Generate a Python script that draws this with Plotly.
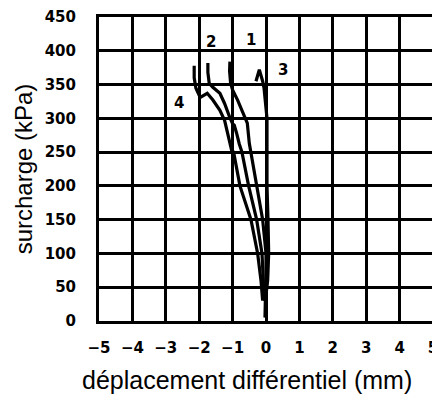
import plotly.graph_objects as go

# Curve data: (displacement mm, load kPa)
curve1_x = [0.0, 0.0, 0.0, -0.1, -0.28, -0.45, -0.5, -0.56, -0.71, -0.85, -1.0, -1.06, -1.09, -1.08]
curve1_y = [30, 60, 100, 150, 200, 250, 263, 293, 312, 327, 342, 352, 370, 384]

curve2_x = [-0.05, -0.08, -0.12, -0.28, -0.52, -0.72, -0.8, -0.88, -0.95, -1.0, -1.09, -1.24, -1.38, -1.59, -1.7, -1.74, -1.74]
curve2_y = [30, 60, 100, 150, 200, 250, 262, 278, 290, 292, 302, 322, 337, 346, 352, 368, 382]

curve3_x = [-0.03, -0.02, 0.05, 0.08, 0.06, 0.03, 0.03, 0.03, -0.06, -0.1, -0.2, -0.3]
curve3_y = [5, 30, 60, 100, 150, 200, 250, 300, 345, 355, 372, 355]

curve4_x = [-0.1, -0.15, -0.25, -0.45, -0.78, -0.97, -1.03, -1.15, -1.24, -1.38, -1.59, -1.76, -1.97, -2.1, -2.15, -2.15]
curve4_y = [30, 60, 100, 150, 200, 250, 253, 278, 297, 312, 327, 337, 331, 345, 360, 378]

curve_labels = ["1", "2", "3", "4"]
label_x = [-0.45, -1.65, 0.5, -2.6]
label_y = [416, 413, 371, 322]

x_ticks = [-5, -4, -3, -2, -1, 0, 1, 2, 3, 4, 5]
y_ticks = [0, 50, 100, 150, 200, 250, 300, 350, 400, 450]
x_title = "déplacement différentiel (mm)"
y_title = "surcharge (kPa)"

fig = go.Figure()
for cx, cy in [(curve1_x, curve1_y), (curve2_x, curve2_y), (curve3_x, curve3_y), (curve4_x, curve4_y)]:
    fig.add_trace(go.Scatter(x=cx, y=cy, mode="lines",
                             line=dict(color="black", width=3.2), showlegend=False))

for t, lx, ly in zip(curve_labels, label_x, label_y):
    fig.add_annotation(x=lx, y=ly, text=t, showarrow=False,
                       font=dict(family="DejaVu Sans", size=15, color="black", weight="bold"))

# x axis title (sits slightly left of the plot centre in the reference)
fig.add_annotation(xref="paper", yref="paper", x=0.443, y=0, yshift=-59,
                   xanchor="center", yanchor="middle", text=x_title, showarrow=False,
                   font=dict(family="Liberation Sans", size=25, color="black"))

axis_common = dict(showgrid=True, gridcolor="black", gridwidth=2.5,
                   showline=True, linecolor="black", linewidth=3, mirror=True,
                   zeroline=False, ticks="", automargin=False, ticklabeloverflow="allow",
                   tickfont=dict(family="DejaVu Sans", size=15, color="black", weight="bold"))

fig.update_xaxes(range=[-5, 5], tickvals=x_ticks, ticklabelstandoff=11, **axis_common)
fig.update_yaxes(range=[0, 450], tickvals=y_ticks, ticklabelstandoff=17,
                 title=dict(text=y_title, standoff=6,
                            font=dict(family="Liberation Sans", size=24, color="black")),
                 **axis_common)

# page body has an 8px default margin: shrink and shift so the plot lands where the reference has it
fig.update_layout(width=432, height=388, margin=dict(l=91, r=7, t=9, b=75),
                  plot_bgcolor="white", paper_bgcolor="white")
fig.write_html("out.html")
